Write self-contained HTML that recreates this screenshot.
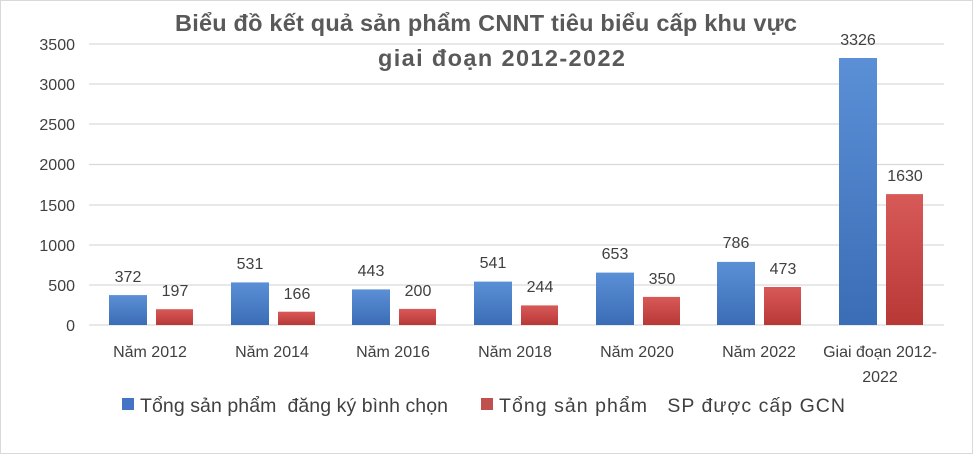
<!DOCTYPE html><html><head><meta charset="utf-8"><style>body{margin:0;background:#fff}svg{display:block;font-family:"Liberation Sans",sans-serif}</style></head><body>
<svg width="974" height="455" xmlns="http://www.w3.org/2000/svg">
<defs>
<linearGradient id="b" x1="0" y1="0" x2="0" y2="1"><stop offset="0" stop-color="#5b8fd6"/><stop offset="1" stop-color="#3a6db5"/></linearGradient>
<linearGradient id="r" x1="0" y1="0" x2="0" y2="1"><stop offset="0" stop-color="#d85a58"/><stop offset="1" stop-color="#b83836"/></linearGradient>
</defs>
<rect x="0.5" y="0.5" width="972" height="453" fill="#fff" stroke="#d9d9d9"/>
<text x="175" y="31" textLength="622" font-size="23.5" font-weight="bold" fill="#595959">Biểu đồ kết quả sản phẩm CNNT tiêu biểu cấp khu vực</text>
<text x="378" y="66" textLength="247" font-size="23.5" font-weight="bold" fill="#595959">giai đoạn 2012-2022</text>
<g stroke="#d9d9d9" stroke-width="1.3">
<line x1="89" x2="944" y1="44" y2="44"/><line x1="89" x2="944" y1="84" y2="84"/><line x1="89" x2="944" y1="124" y2="124"/><line x1="89" x2="944" y1="164.5" y2="164.5"/><line x1="89" x2="944" y1="205" y2="205"/><line x1="89" x2="944" y1="245" y2="245"/><line x1="89" x2="944" y1="285" y2="285"/><line x1="89" x2="944" y1="325" y2="325"/>
</g>
<g font-size="16" fill="#404040" text-anchor="end">
<text x="75" y="50">3500</text><text x="75" y="90">3000</text><text x="75" y="130">2500</text><text x="75" y="170">2000</text><text x="75" y="211">1500</text><text x="75" y="251">1000</text><text x="75" y="291">500</text><text x="75" y="331">0</text>
</g>
<g font-size="16" fill="#404040" text-anchor="middle">
<rect x="109" y="295.1" width="38" height="29.9" fill="url(#b)"/><rect x="156" y="309.2" width="37" height="15.8" fill="url(#r)"/>
<text x="128" y="282">372</text><text x="175" y="296">197</text><text x="150" y="357">Năm 2012</text>
<rect x="231" y="282.4" width="38" height="42.6" fill="url(#b)"/><rect x="278" y="311.7" width="37" height="13.3" fill="url(#r)"/>
<text x="250" y="269">531</text><text x="297" y="299">166</text><text x="272" y="357">Năm 2014</text>
<rect x="352" y="289.4" width="38" height="35.6" fill="url(#b)"/><rect x="399" y="308.9" width="37" height="16.1" fill="url(#r)"/>
<text x="371" y="276">443</text><text x="418" y="296">200</text><text x="393" y="357">Năm 2016</text>
<rect x="474" y="281.6" width="38" height="43.4" fill="url(#b)"/><rect x="521" y="305.4" width="37" height="19.6" fill="url(#r)"/>
<text x="493" y="268">541</text><text x="540" y="292">244</text><text x="515" y="357">Năm 2018</text>
<rect x="596" y="272.6" width="38" height="52.4" fill="url(#b)"/><rect x="643" y="296.9" width="37" height="28.1" fill="url(#r)"/>
<text x="615" y="259">653</text><text x="662" y="284">350</text><text x="637" y="357">Năm 2020</text>
<rect x="717" y="261.9" width="38" height="63.1" fill="url(#b)"/><rect x="764" y="287" width="37" height="38" fill="url(#r)"/>
<text x="736" y="248">786</text><text x="783" y="274">473</text><text x="759" y="357">Năm 2022</text>
<rect x="839" y="58" width="38" height="267" fill="url(#b)"/><rect x="886" y="194.1" width="37" height="130.9" fill="url(#r)"/>
<text x="858" y="45">3326</text><text x="905" y="181">1630</text><text x="880" y="357">Giai đoạn 2012-</text><text x="880" y="382">2022</text>
</g>
<rect x="122" y="398" width="12" height="12" fill="#4472c4"/>
<text x="140" y="412" font-size="19.5" fill="#404040" xml:space="preserve" textLength="308">Tổng sản phẩm  đăng ký bình chọn</text>
<rect x="481" y="398" width="12" height="12" fill="#c0504d"/>
<text x="499" y="412" font-size="19.5" fill="#404040" xml:space="preserve" textLength="346">Tổng sản phẩm   SP được cấp GCN</text>
</svg>
</body></html>
